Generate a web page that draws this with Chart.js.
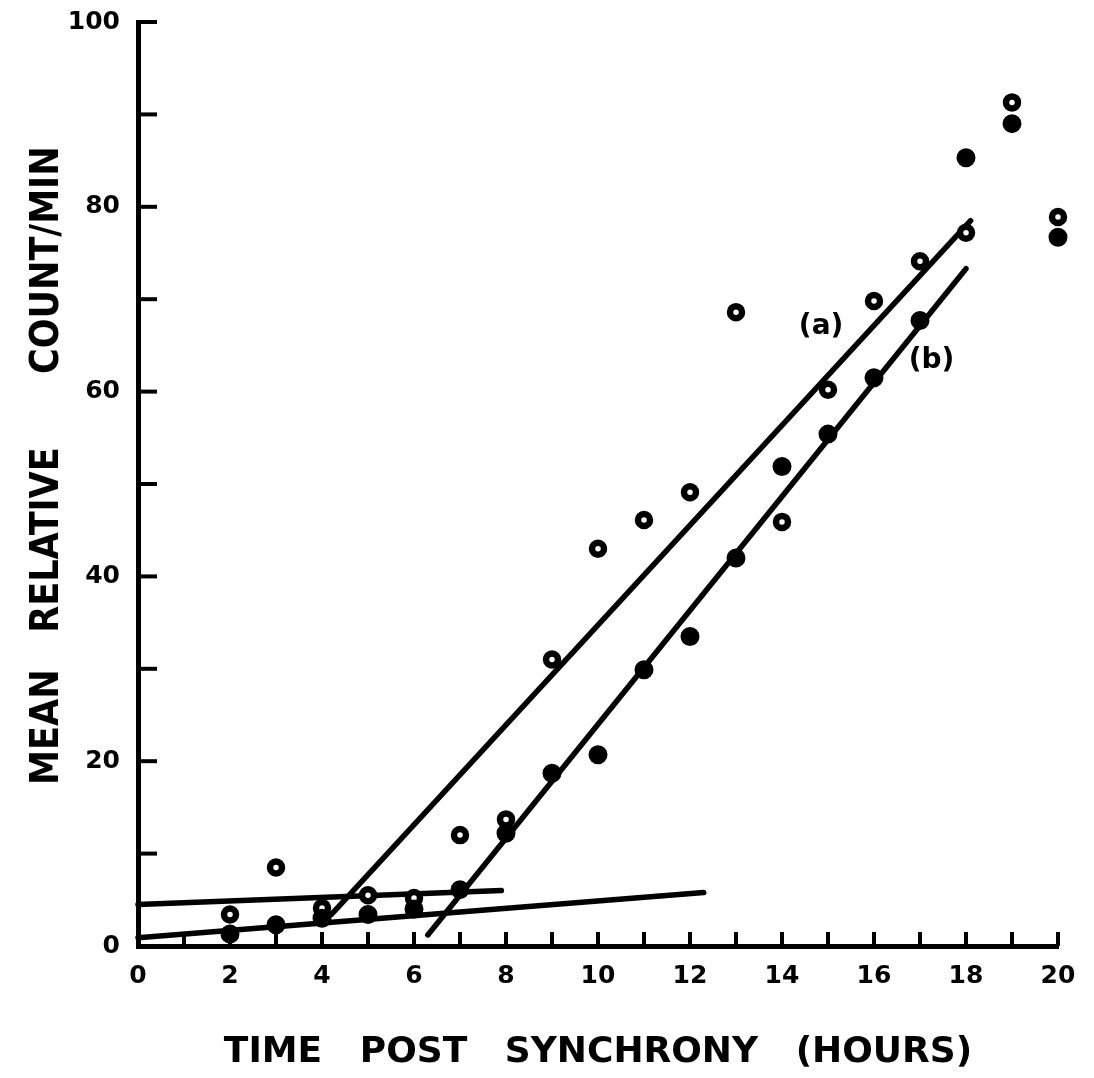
<!DOCTYPE html>
<html lang="en">
<head>
    <meta charset="UTF-8">
    <title>Time post synchrony</title>
    <script src="https://cdn.jsdelivr.net/npm/chart.js"></script>
    <style>
        body { margin: 0; background: #fff; }
        #wrap { width: 1094px; height: 1078px; }
    </style>
</head>
<body>
    <div id="wrap"><canvas id="myChart" width="1094" height="1078"></canvas></div>
    <script>
        // hours after synchrony
        const hours = [2, 3, 4, 5, 6, 7, 8, 9, 10, 11, 12, 13, 14, 15, 16, 17, 18, 19, 20];
        // (a) open circles
        const countsA = [3.4, 8.5, 4.1, 5.5, 5.2, 12.0, 13.7, 31.0, 43.0, 46.1, 49.1, 68.6, 45.9, 60.2, 69.8, 74.1, 77.2, 91.3, 78.9];
        // (b) filled circles
        const countsB = [1.3, 2.3, 3.0, 3.4, 4.0, 6.1, 12.2, 18.7, 20.7, 29.9, 33.5, 42.0, 51.9, 55.4, 61.5, 67.7, 85.3, 89.0, 76.7];

        // fitted lines, as [x, y] end points
        const fitA = [[4.2, 3.4], [18.1, 78.5]];
        const fitB = [[6.3, 1.2], [18.0, 73.3]];
        const baseA = [[0, 4.5], [7.9, 6.0]];
        const baseB = [[0, 0.9], [12.3, 5.8]];

        // curve labels
        const curveLabels = ['(a)', '(b)'];
        const curveLabelAt = [[14.85, 67], [17.25, 63.3]];

        const toPts = (xs, ys) => xs.map((x, i) => ({x: x, y: ys[i]}));
        const toLine = pairs => pairs.map(p => ({x: p[0], y: p[1]}));

        function lineSet(pairs) {
            return {
                type: 'line',
                data: toLine(pairs),
                borderColor: '#000',
                borderWidth: 5.5,
                borderCapStyle: 'round',
                pointRadius: 0,
                fill: false,
                clip: false
            };
        }

        // ticks point inward on this chart, so draw them ourselves
        const innerTicks = {
            id: 'innerTicks',
            afterDraw(chart) {
                const ctx = chart.ctx;
                const xs = chart.scales.x, ys = chart.scales.y;
                ctx.save();
                ctx.strokeStyle = '#000';
                ctx.lineWidth = 4;
                ys.ticks.forEach(t => {
                    const py = ys.getPixelForValue(t.value);
                    ctx.beginPath();
                    ctx.moveTo(xs.left, py);
                    ctx.lineTo(xs.left + 19, py);
                    ctx.stroke();
                });
                xs.ticks.forEach(t => {
                    if (t.value === 0) return;
                    const px = xs.getPixelForValue(t.value);
                    ctx.beginPath();
                    ctx.moveTo(px, ys.bottom);
                    ctx.lineTo(px, ys.bottom - 14);
                    ctx.stroke();
                });
                ctx.fillStyle = '#000';
                ctx.font = 'bold 28px "DejaVu Sans"';
                ctx.textAlign = 'center';
                ctx.textBaseline = 'middle';
                curveLabels.forEach((s, i) => {
                    ctx.fillText(s, xs.getPixelForValue(curveLabelAt[i][0]), ys.getPixelForValue(curveLabelAt[i][1]));
                });
                ctx.restore();
            }
        };

        const ctx = document.getElementById('myChart').getContext('2d');
        const chart = new Chart(ctx, {
            type: 'scatter',
            data: {
                datasets: [
                    {
                        data: toPts(hours, countsB),
                        pointStyle: 'circle',
                        pointRadius: 8,
                        pointBorderWidth: 3,
                        pointBackgroundColor: '#000',
                        pointBorderColor: '#000',
                        clip: false
                    },
                    {
                        data: toPts(hours, countsA),
                        pointStyle: 'circle',
                        pointRadius: 6,
                        pointBorderWidth: 6.5,
                        pointBackgroundColor: '#fff',
                        pointBorderColor: '#000',
                        clip: false
                    },
                    lineSet(fitA),
                    lineSet(fitB),
                    lineSet(baseA),
                    lineSet(baseB)
                ]
            },
            options: {
                responsive: false,
                animation: false,
                events: [],
                layout: { padding: { top: 22, right: 36, left: 0, bottom: 0 } },
                plugins: {
                    legend: { display: false },
                    tooltip: { enabled: false }
                },
                scales: {
                    x: {
                        type: 'linear',
                        min: 0,
                        max: 20,
                        afterFit: s => { s.height = 132; s.paddingRight = 0; },
                        border: { color: '#000', width: 5 },
                        grid: { display: true, drawOnChartArea: false, drawTicks: false },
                        ticks: {
                            stepSize: 1,
                            autoSkip: false,
                            maxRotation: 0,
                            padding: 15,
                            color: '#000',
                            font: { family: '"DejaVu Sans"', size: 25, weight: 'bold' },
                            callback: v => (v % 2 === 0 ? v : '')
                        },
                        title: {
                            display: true,
                            text: 'TIME   POST   SYNCHRONY   (HOURS)',
                            color: '#000',
                            font: { family: '"DejaVu Sans"', size: 36, weight: 'bold' },
                            padding: { top: 0, bottom: 4 }
                        }
                    },
                    y: {
                        type: 'linear',
                        min: 0,
                        max: 100,
                        afterFit: s => { s.width = 138; s.paddingTop = 0; s.paddingBottom = 0; },
                        border: { color: '#000', width: 5 },
                        grid: { display: true, drawOnChartArea: false, drawTicks: false },
                        ticks: {
                            stepSize: 10,
                            autoSkip: false,
                            padding: 18,
                            color: '#000',
                            font: { family: '"DejaVu Sans"', size: 25, weight: 'bold' },
                            callback: v => (v % 20 === 0 ? v : '')
                        },
                        title: {
                            display: true,
                            text: '   MEAN   RELATIVE      COUNT/MIN',
                            color: '#000',
                            font: { family: '"DejaVu Sans Condensed", "DejaVu Sans"', size: 39, weight: 'bold' },
                            padding: { top: 24, bottom: 0 }
                        }
                    }
                }
            },
            plugins: [innerTicks]
        });
    </script>
</body>
</html>
